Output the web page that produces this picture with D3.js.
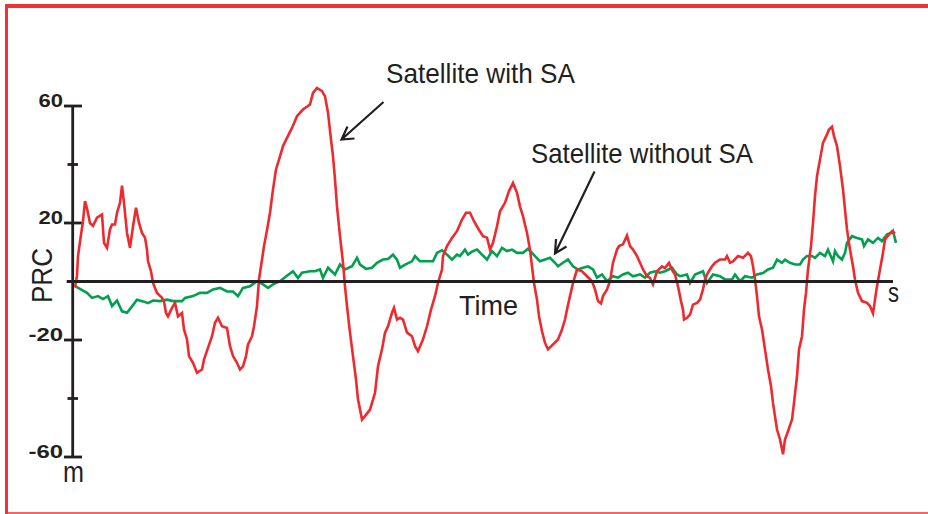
<!DOCTYPE html>
<html><head><meta charset="utf-8">
<script src="https://cdn.jsdelivr.net/npm/d3@7"></script>
<style>body{margin:0;background:#fff}svg{display:block}</style>
</head><body>
<script>
// ---- data (time in arbitrary units, PRC in m) ----
const redTime = [0,2,3,6,8,10,12,15,18,22,27,29,32,35,37,40,42,45,47,49,52,55,58,61,64,67,70,72,73,76,78,82,87,89,91,93,97,100,103,107,109,112,114,118,122,127,129,133,137,140,143,147,152,155,158,162,165,168,171,173,177,179,182,184,187,189,192,195,198,201,205,208,212,217,222,228,235,238,242,247,250,253,256,258,260,262,265,268,270,272,275,278,281,283,287,291,295,300,303,307,310,313,317,319,322,325,328,332,337,340,343,348,352,356,360,363,367,368,372,377,382,387,391,395,399,403,408,412,415,418,422,425,430,434,438,442,445,448,452,455,457,459,462,464,467,470,473,478,483,487,490,492,495,498,502,507,512,517,520,523,526,528,532,535,538,542,544,548,552,555,558,562,565,568,572,575,578,582,587,590,594,597,600,603,606,608,609,612,615,618,622,625,628,630,633,637,640,645,650,652,655,658,663,668,673,676,678,680,682,684,687,689,691,693,696,698,700,702,705,708,710,713,717,719,722,724,727,729,731,733,736,738,740,742,745,748,752,754,757,759,762,765,768,770,772,775,778,780,783,787,792,795,798,800,802,805,808,810,813,817,820];
const redPRC = [-2,2,8.7,16,20.6,27.5,25,20,19,21.8,22.9,13.2,11.5,17.8,19.5,19.5,23.5,26.9,32.8,26.9,16.6,11.5,18.9,25.2,20,16.6,15,10.9,6.9,3.5,-0.5,-3.9,-5.6,-6.8,-10.7,-11.9,-9,-7.3,-11.9,-10.8,-16.4,-19.8,-25.5,-27.8,-31.2,-30.1,-26.7,-22.7,-18.7,-14.1,-12.4,-15.3,-15.9,-22.1,-25.5,-27.8,-30.1,-29,-25.5,-21.5,-18.7,-15.3,-8.4,0.7,7.5,12.1,17.5,23.5,31.5,38.3,42.8,46.3,49.1,52.5,56.5,58.8,60.5,64.5,66.2,65.1,63.3,57.7,48.5,42.8,34.9,25.7,15.5,6.4,-1.6,-8.4,-17.5,-25.5,-33.5,-40.3,-47.2,-45.6,-43.8,-38.1,-29,-23.2,-17.5,-15.3,-10.7,-9,-13,-12.4,-13,-17.5,-18.7,-22.1,-23.8,-19.8,-15.3,-9.6,-5,-0.5,4.1,8.7,12.1,14.9,17.2,21.2,23.5,23.5,20.6,18.2,15.5,15,10.9,13.2,18.9,24,26.9,30.9,33.7,30.3,25.7,22.3,16.6,10.9,5.2,-0.5,-6.2,-11.9,-17,-21,-23.2,-21.5,-19.8,-16.4,-13,-9.6,-5,-0.5,4.1,3.5,1.8,0.1,-2.7,-6.7,-7.5,-5,-2.7,0.1,6.4,10.9,12.1,12.7,15.7,12.1,10.9,8.7,6.4,4.1,1.8,1.2,-1,3.5,5.2,4.6,6.4,4,2.4,-1.6,-6.7,-9.6,-13,-12.4,-11.3,-7.9,-7.3,-6.2,-2.7,0.7,3,5.2,6.4,7.5,7.5,8.7,6.4,6.9,8.7,8.1,9.8,8.7,5.2,0.7,-5,-11.9,-16.4,-21,-25.5,-30.1,-35.8,-41.5,-46.1,-50.6,-54,-59.1,-54,-51.2,-47.2,-41.5,-32.4,-23.2,-18.7,-9.6,-3.9,4.1,12.1,20,29.2,36,41.7,47.4,50.3,52,52.9,49.7,46.3,39.4,31.5,24.6,17.8,10.9,5.2,0.7,-3.9,-6.7,-7.3,-8.4,-10.9,-6.2,-1.6,4.1,9.8,14.4,15.7,17.2,16.4];
const greenTime = [0,5,12,17,23,28,33,37,42,47,52,57,62,68,73,78,85,92,98,107,110,118,125,132,138,145,152,158,163,168,175,182,188,193,198,205,211,218,223,227,235,240,245,248,253,260,265,270,277,282,285,291,297,302,308,313,318,322,325,330,337,340,345,352,358,362,367,372,377,382,385,390,393,397,402,407,412,417,422,427,432,437,442,448,453,457,460,465,470,475,480,483,488,493,498,503,508,513,518,522,527,532,538,543,548,553,558,565,570,575,580,585,590,597,602,605,612,615,620,628,632,638,645,650,657,660,665,670,677,682,688,693,698,702,707,710,715,720,725,728,732,737,740,745,750,753,758,760,763,767,770,772,777,782,787,789,793,798,803,807,812,817,818,821];
const greenPRC = [-1.6,-2.5,-3.9,-5.6,-5,-6,-5,-8.4,-6.5,-10.2,-10.7,-8.5,-6.2,-6.8,-7.4,-6.5,-6.7,-6.2,-6.7,-6.7,-5.6,-5,-3.9,-3.9,-2.7,-2.2,-3.4,-3.4,-5,-2.2,-1.6,0.1,-1,-2.2,-1,0.1,1.7,3.5,1.2,3,3.5,3.5,4.1,1.2,4.7,2.4,5.8,4.1,5.2,8.1,5.8,4.3,4.7,6.4,7.5,7.7,9.2,7.5,4.7,5.8,6.9,8.7,6.9,6.9,6.9,9.8,10.7,9.2,7.5,9.2,8.7,10.9,9.2,10.2,10.9,9.2,7.5,10.4,8.7,11.5,10.4,10.9,9.8,9.8,11.2,9.8,8.7,6.9,7.5,8.1,6.4,5.2,6.4,7.5,5.2,4.1,4.7,5.2,4.1,1.3,2.4,0.1,1.8,1.3,2.4,3,1.8,2.4,1.3,3,3.5,3,3.5,4.7,2.4,1.8,2.4,-0.5,2.4,3.5,-0.5,2.4,1.8,0.7,0.7,2.4,0.1,1.8,1.3,2.4,2.9,4.1,4.7,7.5,6.4,7.5,6.4,5.8,5.8,7.5,8.7,8.7,8.1,9.8,8.7,10.9,6.9,10.4,8.7,7.5,9.8,13.2,15.5,14.9,14.4,12.1,14.4,13.2,14.9,13.8,16.1,16.7,17.2,13.2];
const majorTicks = [60, 20, -20, -60];
const minorTicks = [40, -40];
const tickLabels = ["60", "20", "-20", "-60"];
const yTitle = "PRC", yUnit = "m", xTitle = "Time", xUnit = "s";
const label1 = "Satellite with SA", label2 = "Satellite without SA";

// ---- drawing ----
const W = 928, H = 514;
const RED = "#ee2a2e", GREEN = "#00a04e", INK = "#231f20", FRAME = "#f03236";
const FONT = "'Liberation Sans', Arial, sans-serif";

const svg = d3.select("body").append("svg").attr("width", W).attr("height", H);

// frame
svg.append("line").attr("x1", 5).attr("x2", W).attr("y1", 6).attr("y2", 6).attr("stroke", FRAME).attr("stroke-width", 4);
svg.append("line").attr("x1", 6.5).attr("x2", 6.5).attr("y1", 4).attr("y2", H).attr("stroke", FRAME).attr("stroke-width", 3);
svg.append("line").attr("x1", 5).attr("x2", W).attr("y1", 513).attr("y2", 513).attr("stroke", FRAME).attr("stroke-width", 1.6);

const x = d3.scaleLinear().domain([0, 820]).range([75, 895]);
const y = d3.scaleLinear().domain([-60, 60]).range([457, 106]);
const axX = 72.7;

// y axis
svg.append("line").attr("x1", axX).attr("x2", axX).attr("y1", y(60)).attr("y2", y(-60))
  .attr("stroke", INK).attr("stroke-width", 2.8);
svg.selectAll(".maj").data(majorTicks).join("line")
  .attr("x1", 64).attr("x2", 82).attr("y1", d => y(d)).attr("y2", d => y(d))
  .attr("stroke", INK).attr("stroke-width", 2.8);
svg.selectAll(".min").data(minorTicks).join("line")
  .attr("x1", 67.5).attr("x2", 78).attr("y1", d => y(d)).attr("y2", d => y(d))
  .attr("stroke", INK).attr("stroke-width", 2.8);
svg.selectAll(".tl").data(majorTicks).join("text")
  .attr("x", (d, i) => 63 - (tickLabels[i].length === 3 ? 34.5 : 24.5))
  .attr("y", d => y(d) + 0.5)
  .attr("textLength", (d, i) => tickLabels[i].length === 3 ? 34.5 : 24.5)
  .attr("lengthAdjust", "spacingAndGlyphs")
  .attr("font-family", FONT).attr("font-size", 17.5).attr("font-weight", "bold")
  .attr("fill", INK).text((d, i) => tickLabels[i]);

// series
const redData = redTime.map((t, i) => [t, redPRC[i]]);
const greenData = greenTime.map((t, i) => [t, greenPRC[i]]);
const line = d3.line().x(d => x(d[0])).y(d => y(d[1]));
svg.append("path").attr("d", line(greenData)).attr("fill", "none")
  .attr("stroke", GREEN).attr("stroke-width", 2.6).attr("stroke-linejoin", "miter");
svg.append("path").attr("d", line(redData)).attr("fill", "none")
  .attr("stroke", RED).attr("stroke-width", 2.6).attr("stroke-linejoin", "miter");

// x axis (zero line)
svg.append("line").attr("x1", 66.7).attr("x2", 893).attr("y1", y(0)).attr("y2", y(0))
  .attr("stroke", INK).attr("stroke-width", 2.8);

// axis titles
function txt(s, x0, y0, len, size) {
  return svg.append("text").attr("x", x0).attr("y", y0).attr("textLength", len)
    .attr("lengthAdjust", "spacingAndGlyphs").attr("font-family", FONT)
    .attr("font-size", size).attr("fill", INK).text(s);
}
svg.append("text").attr("transform", "translate(51.7,303) rotate(-90)")
  .attr("textLength", 55).attr("lengthAdjust", "spacingAndGlyphs")
  .attr("font-family", FONT).attr("font-size", 30).attr("fill", INK).text(yTitle);
txt(yUnit, 63, 482, 21, 30);
txt(xTitle, 459, 315, 59, 28);
txt(xUnit, 888, 302, 11, 28);
txt(label1, 386, 83.3, 189, 28);
txt(label2, 531, 163.3, 222, 28);

// arrows
const arrows = [
  {from: [383.5, 102], to: [341.5, 139.5], h1: [347.5, 126.5], h2: [354.5, 138.5]},
  {from: [594.5, 171.5], to: [555, 253.5], h1: [556, 239], h2: [566.5, 246.5]}
];
arrows.forEach(a => {
  svg.append("path")
    .attr("d", `M${a.from}L${a.to}M${a.h1}L${a.to}L${a.h2}`)
    .attr("fill", "none").attr("stroke", INK).attr("stroke-width", 2.2);
});
</script>
</body></html>
